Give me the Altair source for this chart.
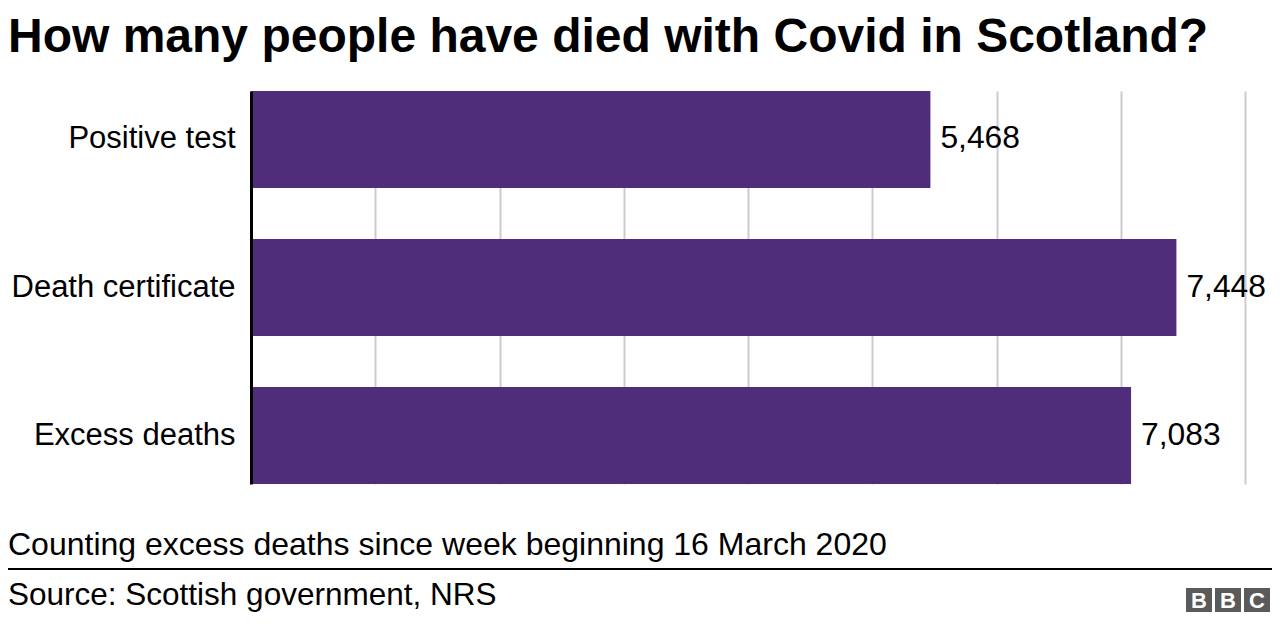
import altair as alt
import pandas as pd

categories = ["Positive test", "Death certificate", "Excess deaths"]
values = [5468, 7448, 7083]
grid_values = [1000, 2000, 3000, 4000, 5000, 6000, 7000, 8000]

title_text = "How many people have died with Covid in Scotland?"
subtitle_text = "Counting excess deaths since week beginning 16 March 2020"
source_text = "Source: Scottish government, NRS"
logo_letters = ["B", "B", "C"]

FONT = "Liberation Sans"
PURPLE = "#4f2d7b"

df = pd.DataFrame({"category": categories, "value": values})

x_enc = alt.X(
    "value:Q",
    scale=alt.Scale(domain=[0, 8000], nice=False, zero=True),
    axis=alt.Axis(
        title=None, labels=False, ticks=False, domain=False,
        grid=True, gridColor="#cccccc", gridWidth=2, values=grid_values,
    ),
)
y_enc = alt.Y(
    "category:N",
    sort=categories,
    scale=alt.Scale(paddingInner=0.345, paddingOuter=0),
    axis=alt.Axis(
        title=None, ticks=False, tickSize=0, labelPadding=16,
        labelFontSize=31, labelColor="black", labelFont=FONT, labelLimit=400,
        domain=True, domainColor="black", domainWidth=3, grid=False, zindex=1,
    ),
)

base = alt.Chart(df)
bars = base.mark_bar(color=PURPLE).encode(x=x_enc, y=y_enc)
labels = base.mark_text(
    align="left", baseline="middle", dx=10, dy=-1, fontSize=31.8, font=FONT, color="black"
).encode(x="value:Q", y=alt.Y("category:N", sort=categories), text=alt.Text("value:Q", format=","))

def note(text, y, size=31.5, weight="normal"):
    return alt.Chart(pd.DataFrame({"t": [text]})).mark_text(
        align="left", baseline="alphabetic", fontSize=size, fontWeight=weight, font=FONT, color="black"
    ).encode(x=alt.value(-243), y=alt.value(y), text="t:N")

title = note(title_text, -39, size=48, weight="bold")
subtitle = note(subtitle_text, 464, size=32)
source = note(source_text, 514)

sep = alt.Chart(pd.DataFrame({"a": [0]})).mark_rule(color="black", strokeWidth=2).encode(
    x=alt.value(-243), x2=alt.value(1021), y=alt.value(478)
)

logo_layers = []
for i, letter in enumerate(logo_letters):
    x0 = 935 + i * 29
    d = pd.DataFrame({"t": [letter]})
    box = alt.Chart(d).mark_rect(color="#5a5a5a").encode(
        x=alt.value(x0), x2=alt.value(x0 + 26), y=alt.value(497), y2=alt.value(521)
    )
    txt = alt.Chart(d).mark_text(
        align="center", baseline="middle", fontSize=22, fontWeight="bold", font=FONT, color="white"
    ).encode(x=alt.value(x0 + 13), y=alt.value(510), text="t:N")
    logo_layers += [box, txt]

chart = alt.layer(bars, labels, title, subtitle, sep, source, *logo_layers).properties(
    width=994,
    height=393,
    autosize=alt.AutoSizeParams(type="none"),
    padding={"left": 243, "top": 83, "right": 27, "bottom": 132},
).configure_view(stroke=None)

chart.save("out.html", embed_options={"renderer": "svg", "actions": False})
